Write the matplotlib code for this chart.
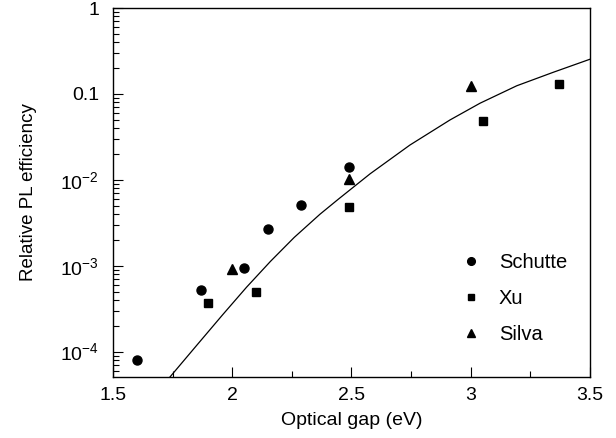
import matplotlib
matplotlib.use("Agg")
import matplotlib.pyplot as plt
from matplotlib.ticker import FixedLocator, FixedFormatter, LogLocator, NullFormatter
import numpy as np

plt.rcParams['font.family'] = ['Liberation Sans', 'DejaVu Sans']
plt.rcParams['mathtext.fontset'] = 'custom'
plt.rcParams['mathtext.rm'] = 'Liberation Sans'
plt.rcParams['mathtext.it'] = 'Liberation Sans'

# data
schutte_x = [1.60, 1.87, 2.05, 2.15, 2.29, 2.49]
schutte_y = [8.0e-5, 5.2e-4, 9.3e-4, 2.7e-3, 5.1e-3, 1.4e-2]
xu_x = [1.90, 2.10, 2.49, 3.05, 3.37]
xu_y = [3.7e-4, 5.0e-4, 4.8e-3, 4.8e-2, 0.131]
silva_x = [2.00, 2.49, 3.00]
silva_y = [9.2e-4, 1.02e-2, 0.125]

# model curve (x, log10 y)
curve_x = [1.739, 1.85, 1.96, 2.06, 2.16, 2.26, 2.368, 2.445, 2.578, 2.745, 2.913, 3.039, 3.193, 3.346, 3.50]
curve_logy = [-4.295, -3.93, -3.57, -3.25, -2.95, -2.67, -2.40, -2.225, -1.93, -1.595,
              -1.303, -1.108, -0.905, -0.748, -0.596]

yticks = [1e-4, 1e-3, 1e-2, 0.1, 1]
ytick_labels = ['$10^{-4}$', '$10^{-3}$', '$10^{-2}$', '0.1', '1']
xticks = [1.5, 2, 2.5, 3, 3.5]
xtick_labels = ['1.5', '2', '2.5', '3', '3.5']

fig = plt.figure(figsize=(6.16, 4.38), dpi=100)
ax = fig.add_axes([0.1834, 0.1393, 0.7744, 0.8424])

ax.plot(curve_x, 10 ** np.array(curve_logy), color='black', lw=0.9)
ax.plot(schutte_x, schutte_y, 'o', color='black', ms=6.5, label='Schutte')
ax.plot(xu_x, xu_y, 's', color='black', ms=5.6, label='Xu')
ax.plot(silva_x, silva_y, '^', color='black', ms=6.8, label='Silva')

ax.set_yscale('log')
ax.set_xlim(1.5, 3.5)
ax.set_ylim(5.07e-5, 1)

ax.yaxis.set_major_locator(FixedLocator(yticks))
ax.yaxis.set_major_formatter(FixedFormatter(ytick_labels))
ax.yaxis.set_minor_locator(LogLocator(base=10, subs=np.arange(2, 10)))
ax.yaxis.set_minor_formatter(NullFormatter())
ax.xaxis.set_major_locator(FixedLocator(xticks))
ax.xaxis.set_major_formatter(FixedFormatter(xtick_labels))
ax.xaxis.set_minor_locator(FixedLocator([1.75, 2.25, 2.75, 3.25]))

ax.tick_params(which='both', direction='in', top=False, right=False, labelsize=14, width=0.8)
ax.tick_params(which='major', length=7)
ax.tick_params(axis='x', which='major', pad=7)
ax.tick_params(axis='y', which='major', pad=10)
ax.tick_params(which='minor', length=4)
for s in ax.spines.values():
    s.set_linewidth(1.0)

ax.set_xlabel('Optical gap (eV)', fontsize=14, labelpad=6)
ax.set_ylabel('Relative PL efficiency', fontsize=13.5, labelpad=17)

leg = ax.legend(loc='lower right', bbox_to_anchor=(0.99, 0.04), frameon=False,
                fontsize=14.5, handletextpad=0.4, labelspacing=0.85, markerscale=0.85)

fig.savefig('out.png', dpi=100)
